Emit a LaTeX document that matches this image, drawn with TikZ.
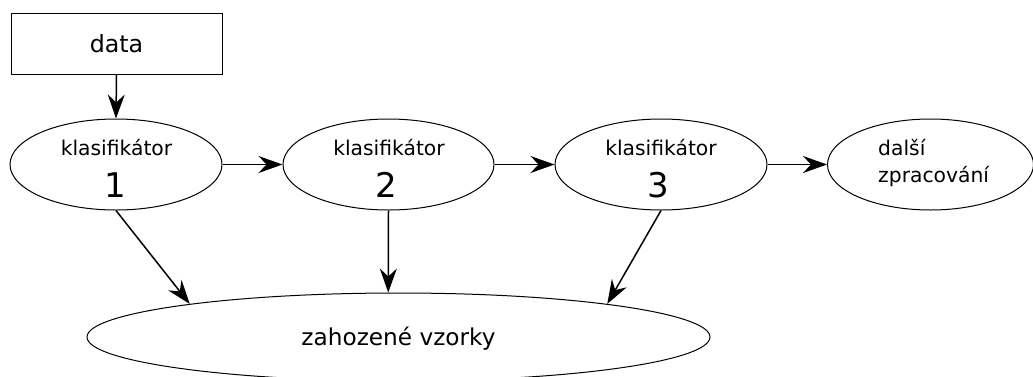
\documentclass[tikz,border=0pt]{standalone}
\usepackage{fontspec}
\setmainfont{DejaVu Sans}
\usetikzlibrary{shapes.geometric,arrows.meta}
\begin{document}
\begin{tikzpicture}[x=1pt,y=-1pt,
  ell/.style={draw, ellipse, line width=1pt, inner sep=0pt},
  arr/.style={line width=1.5pt, -{Stealth[length=24pt,width=17pt,inset=8pt]}},
  txt/.style={anchor=base, inner sep=0pt},
  small/.style={font=\fontsize{20.3pt}{26pt}\selectfont},
  big/.style={font=\fontsize{34pt}{40pt}\selectfont}]
\useasboundingbox (0,0) rectangle (1033,376);
% nodes
\node[draw, line width=1pt, minimum width=211pt, minimum height=61pt, inner sep=0pt,
      font=\fontsize{23.7pt}{28pt}\selectfont] (data) at (116.5,43.5) {data};
\node[ell, minimum width=212pt, minimum height=91pt] (k1) at (116,164.5) {};
\node[ell, minimum width=211pt, minimum height=91pt] (k2) at (388.5,164.5) {};
\node[ell, minimum width=212pt, minimum height=91pt] (k3) at (661,164.5) {};
\node[ell, minimum width=206pt, minimum height=91pt] (k4) at (930.5,164.5) {};
\node[ell, minimum width=623pt, minimum height=88pt] (z) at (398.5,337) {};
% texts
\node[txt, small] (t1a) at (116.5,155) {klasifikátor};
\node[txt, big]   (t1b) at (115,197) {1};
\node[txt, small] (t2a) at (389,155) {klasifikátor};
\node[txt, big]   (t2b) at (386,197) {2};
\node[txt, small] (t3a) at (661,155) {klasifikátor};
\node[txt, big]   (t3b) at (658,197) {3};
\node[txt, small, anchor=base west] (t4a) at (878,155) {další};
\node[txt, small, anchor=base west] (t4b) at (878,182) {zpracování};
\node[txt, font=\fontsize{23.2pt}{28pt}\selectfont] (tz) at (398.5,345) {zahozené vzorky};
% connectors
\draw[arr] (data.south) -- (k1.north);
\draw[arr] (k1.east) -- (k2.west);
\draw[arr] (k2.east) -- (k3.west);
\draw[arr] (k3.east) -- (k4.west);
\draw[arr] (k1.south) -- (z.171);
\draw[arr] (k2.south) -- (z.103);
\draw[arr] (k3.south) -- (z.9);
\end{tikzpicture}
\end{document}
